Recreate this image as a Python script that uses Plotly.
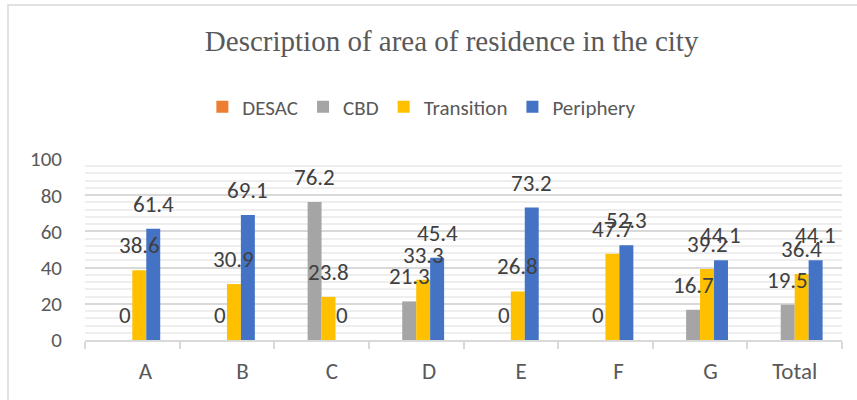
import plotly.graph_objects as go

categories = ["A", "B", "C", "D", "E", "F", "G", "Total"]
tick_labels = ["\u00a0" * 5 + "A", "\u00a0" * 6 + "B", "\u00a0" * 4 + "C",
               "\u00a0" * 5 + "D", "\u00a0" * 4 + "E", "\u00a0" * 5 + "F",
               "\u00a0" * 4 + "G", "Total"]
series_names = ["DESAC", "CBD", "Transition", "Periphery"]
desac = [None, None, None, None, None, None, None, None]
cbd = [0, 0, 76.2, 21.3, 0, 0, 16.7, 19.5]
transition = [38.6, 30.9, 23.8, 33.3, 26.8, 47.7, 39.2, 36.4]
periphery = [61.4, 69.1, 0, 45.4, 73.2, 52.3, 44.1, 44.1]
colors = ["#ED7D31", "#A5A5A5", "#FFC000", "#4472C4"]
y_ticks = [0, 20, 40, 60, 80, 100]

series = [desac, cbd, transition, periphery]

W, H = 857, 400
ml, mr, mt, mb = 85, 15, 159, 60
plot_w = W - ml - mr
bargap = 0.41
cat_w = plot_w / len(categories)
bar_w = cat_w * (1 - bargap) / len(series)

FONT = "Carlito, Calibri, Lato, sans-serif"

fig = go.Figure()
for name, vals, col in zip(series_names, series, colors):
    fig.add_trace(go.Bar(name=name, x=categories, y=vals, marker_color=col,
                         marker_line_width=0))

label_font = dict(family=FONT, size=23, color="#404040")
annotations = []
for i, vals in enumerate(series):
    off = (i - (len(series) - 1) / 2) * bar_w
    for c, v in zip(categories, vals):
        if v is None:
            continue
        annotations.append(dict(x=c, y=v, xref="x", yref="y", text=f"{v:g}",
                                showarrow=False, xshift=off, yshift=25,
                                font=label_font, xanchor="center", yanchor="middle"))

fig.update_layout(
    width=W, height=H,
    margin=dict(l=ml, r=mr, t=mt, b=mb),
    paper_bgcolor="white", plot_bgcolor="white",
    barmode="group", bargap=bargap, bargroupgap=0,
    title=dict(text="Description of area of residence in the city",
               x=0.527, xanchor="center", y=1 - 41 / H, yanchor="middle",
               font=dict(family="Liberation Serif, Times New Roman, serif", size=29,
                         color="#595959")),
    legend=dict(orientation="h", x=0.445, xanchor="center", y=(340 - 107) / 181,
                yanchor="middle",
                font=dict(family=FONT, size=21, color="#595959"),
                itemsizing="constant"),
    annotations=annotations,
    shapes=[dict(type="rect", xref="paper", yref="paper",
                 x0=(8 - ml) / plot_w, x1=1.5, y0=-2, y1=(340 - 5) / 181,
                 line=dict(color="#d9d9d9", width=1.5), layer="below")],
    showlegend=True,
)
fig.update_xaxes(type="category", showline=True, linecolor="#d9d9d9", linewidth=1.5,
                 ticks="outside", tickson="boundaries", ticklen=7, tickcolor="#d9d9d9",
                 tickwidth=1.5, showgrid=False, ticklabelstandoff=10,
                 tickmode="array", tickvals=categories, ticktext=tick_labels,
                 tickfont=dict(family=FONT, size=23, color="#595959"))
fig.update_yaxes(range=[0, 100], tickvals=y_ticks, showgrid=True, gridcolor="#d9d9d9",
                 gridwidth=1.5, zeroline=False, showline=False, ticks="",
                 ticklabelstandoff=22,
                 minor=dict(dtick=4, showgrid=True, gridcolor="#eeeeee", gridwidth=1.5),
                 tickfont=dict(family=FONT, size=21, color="#595959"))

fig.write_html("out.html", config={"displayModeBar": False},
               post_script="document.body.style.margin='0';")
